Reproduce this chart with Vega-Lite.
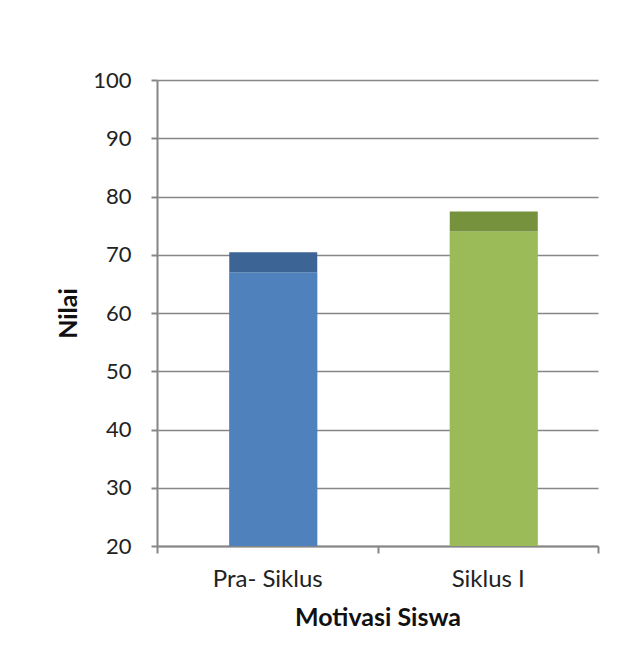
{
  "$schema": "https://vega.github.io/schema/vega-lite/v6.json",
  "width": 441,
  "height": 466,
  "autosize": {"type": "none"},
  "padding": {"left": 157, "top": 80, "right": 46, "bottom": 126},
  "background": "white",
  "config": {"view": {"stroke": null}, "font": "Lato"},
  "data": {"values": [
    {"siklus": "Pra- Siklus", "nilai": 67},
    {"siklus": "Siklus I", "nilai": 74}
  ]},
  "encoding": {
    "x": {
      "field": "siklus", "type": "nominal", "sort": null,
      "scale": {"paddingInner": 0, "paddingOuter": 0},
      "axis": {
        "title": "Motivasi Siswa", "labelAngle": 0, "tickBand": "extent",
        "domainColor": "#868686", "domainWidth": 2, "tickColor": "#868686", "tickWidth": 2, "tickSize": 7,
        "labelFontSize": 24, "labelColor": "#222222", "labelPadding": 14,
        "titleFontSize": 25, "titleFontWeight": "bold", "titleColor": "#111111", "titlePadding": 14
      }
    },
    "y": {
      "field": "nilai", "type": "quantitative",
      "scale": {"domain": [20, 100], "nice": false},
      "axis": {
        "title": "Nilai", "values": [20, 30, 40, 50, 60, 70, 80, 90, 100],
        "domainColor": "#868686", "domainWidth": 2, "tickColor": "#868686", "tickWidth": 2, "tickSize": 6,
        "gridColor": "#868686", "gridWidth": 1.5,
        "labelFontSize": 22, "labelColor": "#222222", "labelPadding": 20,
        "titleFontSize": 25, "titleFontWeight": "bold", "titleColor": "#111111", "titlePadding": 11
      }
    }
  },
  "layer": [
    {
      "mark": {"type": "bar", "clip": true, "width": {"band": 0.4}, "xOffset": 6},
      "encoding": {
        "color": {"field": "siklus", "type": "nominal", "sort": null, "scale": {"range": ["#4F81BD", "#9BBB59"]}, "legend": null}
      }
    },
    {
      "mark": {"type": "tick", "orient": "horizontal", "thickness": 20, "yOffset": -10, "xOffset": 6, "opacity": 1},
      "encoding": {
        "size": {"value": 88},
        "color": {"field": "siklus", "type": "nominal", "sort": null, "scale": {"range": ["#3C6596", "#76923C"]}, "legend": null}
      }
    }
  ],
  "resolve": {"scale": {"color": "independent"}}
}
